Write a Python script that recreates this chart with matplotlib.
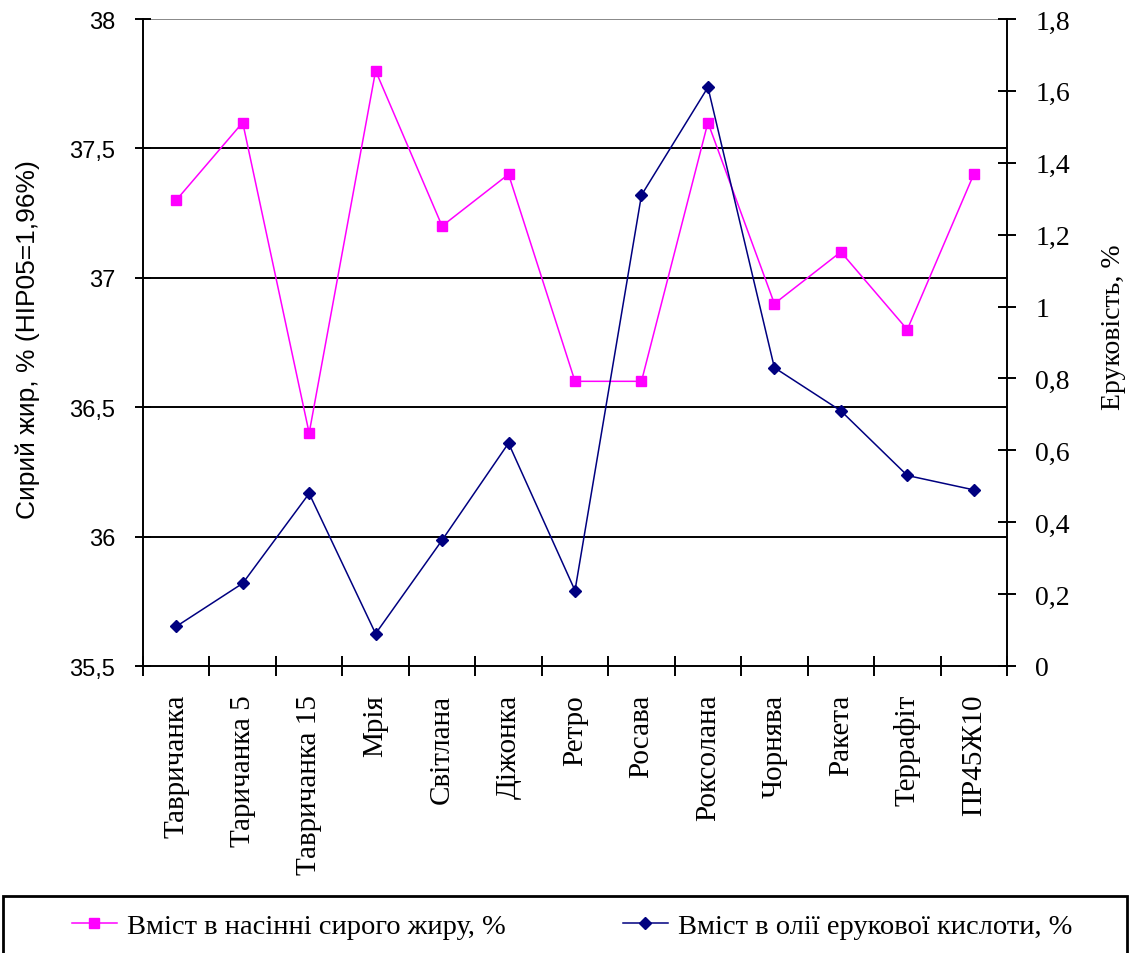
import matplotlib
import matplotlib.pyplot as plt
from matplotlib.patches import Rectangle

matplotlib.use("Agg")

# data
varieties = ["Тавричанка", "Таричанка 5", "Тавричанка 15", "Мрія", "Світлана",
             "Діжонка", "Ретро", "Росава", "Роксолана", "Чорнява", "Ракета",
             "Террафіт", "ПР45Ж10"]
fat = [37.3, 37.6, 36.4, 37.8, 37.2, 37.4, 36.6, 36.6, 37.6, 36.9, 37.1, 36.8, 37.4]
erucic = [0.11, 0.23, 0.48, 0.09, 0.35, 0.62, 0.21, 1.31, 1.61, 0.83, 0.71, 0.53, 0.49]
left_ticks = [35.5, 36, 36.5, 37, 37.5, 38]
right_ticks = [0, 0.2, 0.4, 0.6, 0.8, 1.0, 1.2, 1.4, 1.6, 1.8]
legend_labels = ["Вміст в насінні сирого жиру, %", "Вміст в олії ерукової кислоти, %"]

SERIF = "Liberation Serif"
SANS = "Liberation Sans"
W, H = 1129, 954
MAGENTA = "#FF00FF"
NAVY = "#000080"


def fmt(v):
    return f"{v:g}".replace(".", ",")


fig = plt.figure(figsize=(W / 100, H / 100), dpi=100)
ax = fig.add_axes([143 / W, 1 - 667 / H, (1007 - 143) / W, (667 - 20) / H])
ax2 = ax.twinx()

x = list(range(len(varieties)))

# gridlines
for v in left_ticks[1:-1]:
    ax.axhline(v, color="black", lw=1.4, zorder=1)
ax.axhline(38, color="#888888", lw=1.4, zorder=1)

ax.plot(x, fat, color=MAGENTA, lw=1.1, marker="s", ms=7.5, zorder=3)
ax2.plot(x, erucic, color=NAVY, lw=1.1, marker="D", ms=6.5, zorder=3)

ax.set_xlim(-0.5, len(varieties) - 0.5)
ax.set_ylim(35.5, 38)
ax2.set_ylim(0, 1.8)

for a in (ax, ax2):
    for s in a.spines.values():
        s.set_visible(False)
ax.spines["left"].set_visible(True)
ax.spines["bottom"].set_visible(True)
ax2.spines["right"].set_visible(True)
for s in (ax.spines["left"], ax.spines["bottom"], ax2.spines["right"]):
    s.set_linewidth(1.4)

ax.set_yticks(left_ticks)
ax.set_yticklabels([fmt(v) for v in left_ticks], family=SANS, fontsize=17)
ax.tick_params(axis="y", direction="inout", length=12, width=1.4, pad=14)

ax2.set_yticks(right_ticks)
ax2.set_yticklabels([fmt(v) for v in right_ticks], family=SERIF, fontsize=20)
ax2.tick_params(axis="y", direction="inout", length=13, width=1.4, pad=14)

ax.set_xticks([i - 0.5 for i in range(len(varieties) + 1)])
ax.set_xticklabels([])
ax.set_xticks(x, minor=True)
ax.set_xticklabels(varieties, minor=True, rotation=90, family=SERIF, fontsize=21,
                   va="top", ha="center")
ax.tick_params(axis="x", which="major", direction="inout", length=14, width=1.4)
ax.tick_params(axis="x", which="minor", length=0, pad=20)

fig.text(28 / W, 1 - 340 / H, "Сирий жир, % (НІР05=1,96%)", rotation=90,
         family=SANS, fontsize=19, ha="center", va="center")
fig.text(1113 / W, 1 - 327 / H, "Еруковість, %", rotation=90,
         family=SERIF, fontsize=20, ha="center", va="center")

# legend frame along the bottom
fig.patches.append(Rectangle((3 / W, -0.02), 1124 / W, (1 - 897 / H) + 0.02,
                             transform=fig.transFigure, fill=False,
                             edgecolor="black", lw=2))
h1, = ax.plot([], [], color=MAGENTA, lw=1.1, marker="s", ms=7.5)
h2, = ax.plot([], [], color=NAVY, lw=1.1, marker="D", ms=6.5)
leg = fig.legend([h1, h2], legend_labels,
                 loc="center left", bbox_to_anchor=(46 / W, 1 - 927 / H), ncol=2,
                 frameon=False, fontsize=20.5,
                 handlelength=1.6, handletextpad=0.35, columnspacing=4.1)
for t in leg.get_texts():
    t.set_fontfamily(SERIF)

fig.savefig("out.png", dpi=100)
